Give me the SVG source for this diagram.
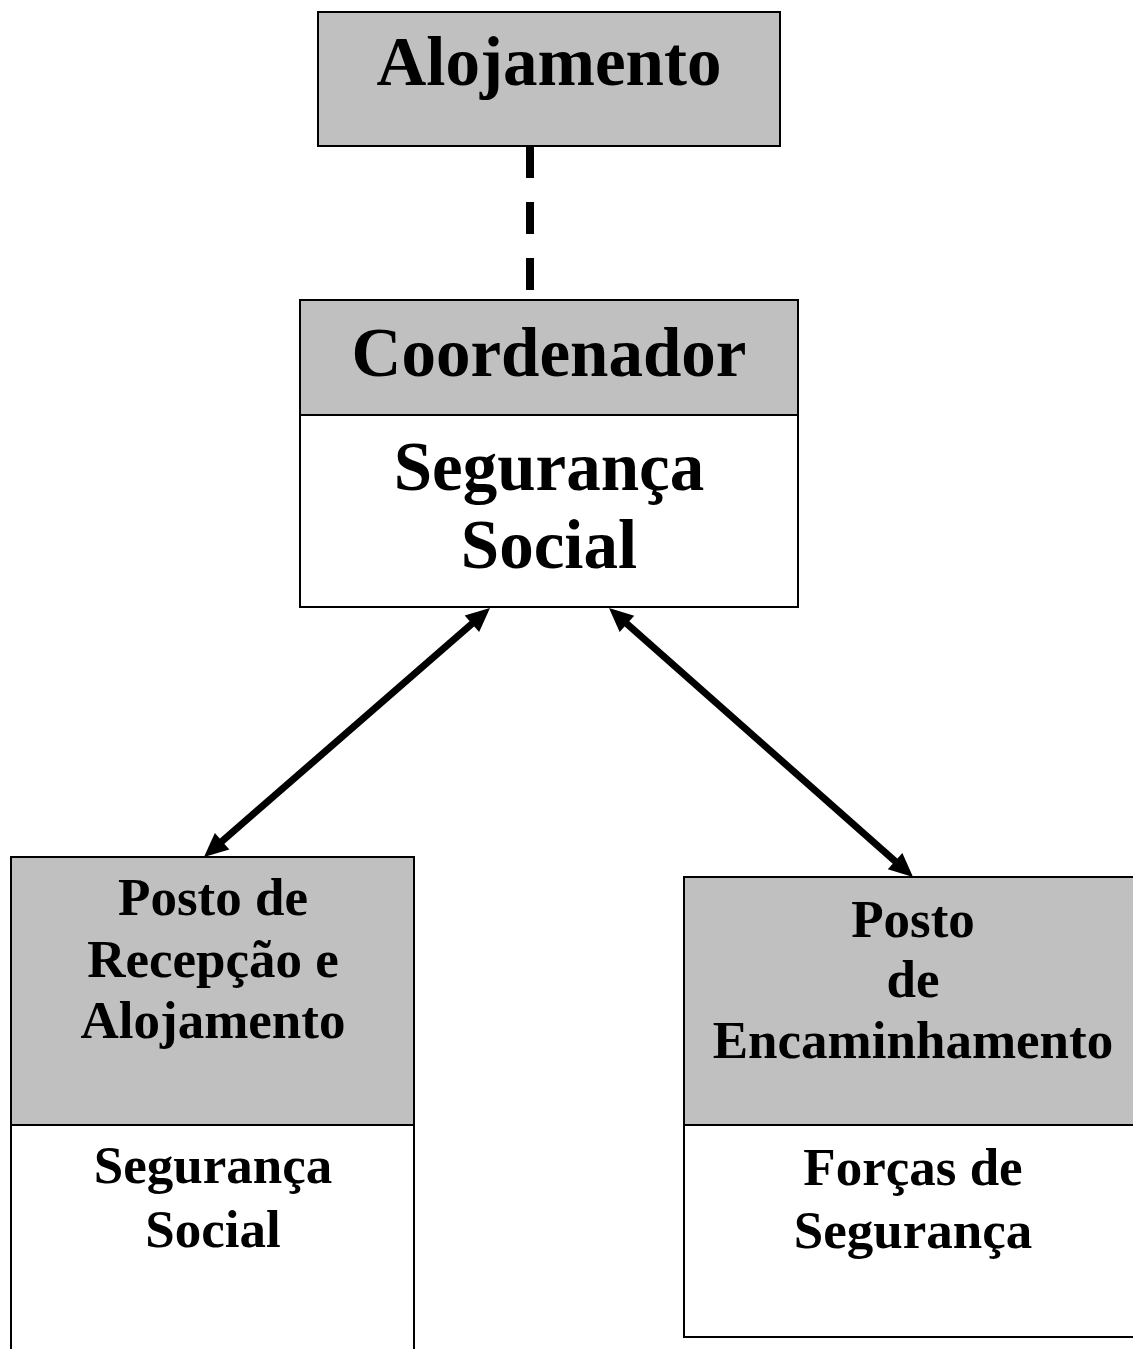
<svg xmlns="http://www.w3.org/2000/svg" width="1133" height="1349" viewBox="0 0 1133 1349">
<style>
.box{stroke:#000;stroke-width:2}
.hdr{fill:#c0c0c0}
.body{fill:#fff}
.t{font-family:"Liberation Serif","Times New Roman",serif;font-weight:bold;fill:#000;text-anchor:middle}
.big{font-size:69px}
.small{font-size:53px}
.conn{stroke:#000;stroke-width:7;fill:none}
</style>
<defs>
<marker id="ah" markerUnits="userSpaceOnUse" markerWidth="40" markerHeight="40" viewBox="-20 -20 40 40" refX="0" refY="0" orient="auto-start-reverse">
<path d="M-9,-11 L15,0 L-9,11 Z" fill="#000"/>
</marker>
</defs>
<rect width="1133" height="1349" fill="#fff"/>
<g id="connectors">
<line x1="530" y1="146" x2="530" y2="290" stroke="#000" stroke-width="8" stroke-dasharray="32 24"/>
<line class="conn" x1="478.7" y1="617.85" x2="215.3" y2="847.15" marker-start="url(#ah)" marker-end="url(#ah)"/>
<line class="conn" x1="620.2" y1="617.9" x2="901.8" y2="867.1" marker-start="url(#ah)" marker-end="url(#ah)"/>
</g>
<g id="alojamento">
<rect class="box hdr" x="318" y="12" width="462" height="134"/>
<text class="t big" x="549" y="85">Alojamento</text>
</g>
<g id="coordenador">
<rect class="box body" x="300" y="300" width="498" height="307"/>
<rect class="box hdr" x="300" y="300" width="498" height="115"/>
<text class="t big" x="549" y="376">Coordenador</text>
<text class="t big" x="549" y="490">Segurança</text>
<text class="t big" x="549" y="568">Social</text>
</g>
<g id="posto-recepcao">
<rect class="box body" x="11" y="857" width="403" height="600"/>
<rect class="box hdr" x="11" y="857" width="403" height="268"/>
<text class="t small" x="213" y="915">Posto de</text>
<text class="t small" x="213" y="977">Recepção e</text>
<text class="t small" x="213" y="1038">Alojamento</text>
<text class="t small" x="213" y="1183">Segurança</text>
<text class="t small" x="213" y="1247">Social</text>
</g>
<g id="posto-encaminhamento">
<rect class="box body" x="684" y="877" width="470" height="460"/>
<rect class="box hdr" x="684" y="877" width="470" height="248"/>
<text class="t small" x="913" y="937">Posto</text>
<text class="t small" x="913" y="997">de</text>
<text class="t small" x="913" y="1058">Encaminhamento</text>
<text class="t small" x="913" y="1185">Forças de</text>
<text class="t small" x="913" y="1248">Segurança</text>
</g>
</svg>
